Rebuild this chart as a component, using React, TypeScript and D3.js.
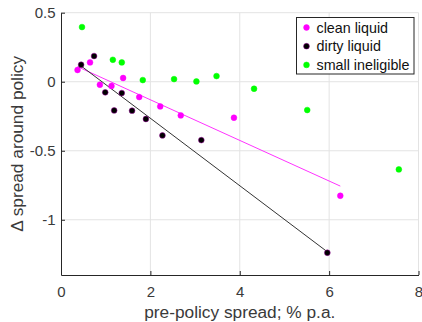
import React, {useRef, useEffect} from 'react'
import * as d3 from 'd3'

// clean liquid
const cleanX = [0.37, 0.65, 0.87, 1.13, 1.39, 1.75, 2.22, 2.68, 3.87, 6.25]
const cleanY = [0.085, 0.14, -0.022, -0.031, 0.027, -0.111, -0.179, -0.244, -0.261, -0.826]
// dirty liquid
const dirtyX = [0.45, 0.74, 0.99, 1.19, 1.36, 1.59, 1.9, 2.27, 3.14, 5.96]
const dirtyY = [0.123, 0.186, -0.077, -0.208, -0.082, -0.21, -0.27, -0.389, -0.423, -1.239]
// small ineligible
const smallX = [0.47, 1.16, 1.36, 1.83, 2.53, 3.03, 3.48, 4.32, 5.51, 7.56]
const smallY = [0.396, 0.159, 0.14, 0.012, 0.019, 0.002, 0.041, -0.051, -0.205, -0.635]

// fitted lines: [x0, x1], [y0, y1]
const cleanFitX = [0.37, 6.25]
const cleanFitY = [0.109, -0.756]
const dirtyFitX = [0.45, 5.96]
const dirtyFitY = [0.114, -1.232]

const xTicks = [0, 2, 4, 6, 8]
const yTicks = [-1, -0.5, 0, 0.5]
const legendLabels = ['clean liquid', 'dirty liquid', 'small ineligible']

const W = 422
const H = 322
const m = {left: 61, right: 3.5, top: 12.7, bottom: 47}
const font = '"Liberation Sans", Arial, Helvetica, sans-serif'
const ink = '#262626'
const textInk = '#3a3a3a'

function App() {
  const ref: any = useRef<SVGSVGElement>(null)

  useEffect(() => {
    const svg = d3.select(ref.current)
    svg.selectAll('*').remove()

    const x = d3.scaleLinear().domain([0, 8]).range([m.left, W - m.right])
    const y = d3.scaleLinear().domain([-1.4, 0.5]).range([H - m.bottom, m.top])

    // grid
    const grid = svg.append('g').attr('stroke', '#e3e3e3').attr('stroke-width', 1)
    xTicks.slice(1).forEach((t) => {
      grid.append('line').attr('x1', x(t)).attr('x2', x(t)).attr('y1', y(-1.4)).attr('y2', y(0.5))
    })
    yTicks.forEach((t) => {
      grid.append('line').attr('x1', x(0)).attr('x2', x(8)).attr('y1', y(t)).attr('y2', y(t))
    })

    // axes (ticks inward, matlab style)
    const xAxis = svg
      .append('g')
      .attr('transform', `translate(0,${y(-1.4)})`)
      .call(d3.axisBottom(x).tickValues(xTicks).tickSizeInner(-4).tickSizeOuter(0).tickPadding(11))
    const yAxis = svg
      .append('g')
      .attr('transform', `translate(${x(0)},0)`)
      .call(
        d3
          .axisLeft(y)
          .tickValues(yTicks)
          .tickSizeInner(-4)
          .tickSizeOuter(0)
          .tickPadding(5.5)
          .tickFormat((d: any) => String(d))
      )
    ;[xAxis, yAxis].forEach((a) => {
      a.select('.domain').attr('stroke', ink).attr('stroke-width', 1)
      a.selectAll('.tick line').attr('stroke', ink)
      a.selectAll('.tick text').attr('fill', textInk).attr('font-size', 15).attr('font-family', font)
    })

    // fit lines
    const fits = [
      {xs: cleanFitX, ys: cleanFitY, color: '#ff33ff'},
      {xs: dirtyFitX, ys: dirtyFitY, color: '#333333'},
    ]
    fits.forEach((f) => {
      const pts: [number, number][] = f.xs.map((v, i) => [x(v), y(f.ys[i])])
      svg
        .append('path')
        .attr('d', d3.line()(pts))
        .attr('fill', 'none')
        .attr('stroke', f.color)
        .attr('stroke-width', 1)
    })

    // points
    const series = [
      {xs: cleanX, ys: cleanY, fill: '#ff00ff', stroke: '#ff00ff'},
      {xs: dirtyX, ys: dirtyY, fill: '#000000', stroke: '#a000a0'},
      {xs: smallX, ys: smallY, fill: '#00ff00', stroke: '#00ff00'},
    ]
    series.forEach((s) => {
      svg
        .append('g')
        .selectAll('circle')
        .data(s.xs)
        .join('circle')
        .attr('cx', (d) => x(d))
        .attr('cy', (d, i) => y(s.ys[i]))
        .attr('r', 2.9)
        .attr('fill', s.fill)
        .attr('stroke', s.stroke)
        .attr('stroke-width', 0.5)
    })

    // legend
    const lg = svg.append('g').attr('transform', 'translate(296.5,17.5)')
    lg.append('rect')
      .attr('width', 117.5)
      .attr('height', 56.5)
      .attr('fill', '#fff')
      .attr('stroke', ink)
      .attr('stroke-width', 1)
    legendLabels.forEach((lab, i) => {
      const cy = 10 + i * 18.7
      lg.append('circle')
        .attr('cx', 10)
        .attr('cy', cy)
        .attr('r', 2.9)
        .attr('fill', series[i].fill)
        .attr('stroke', series[i].stroke)
        .attr('stroke-width', 0.5)
      lg.append('text')
        .attr('x', 20)
        .attr('y', cy + 5)
        .attr('font-size', 14.3)
        .attr('font-family', font)
        .attr('fill', '#111')
        .text(lab)
    })

    // axis labels
    svg
      .append('text')
      .attr('x', (x(0) + x(8)) / 2)
      .attr('y', 318)
      .attr('text-anchor', 'middle')
      .attr('font-size', 17.3)
      .attr('font-family', font)
      .attr('fill', textInk)
      .text('pre-policy spread; % p.a.')
    svg
      .append('text')
      .attr('transform', `translate(22.5,${(y(-1.4) + y(0.5)) / 2}) rotate(-90)`)
      .attr('text-anchor', 'middle')
      .attr('font-size', 17.3)
      .attr('font-family', font)
      .attr('fill', textInk)
      .text('Δ spread around policy')
  }, [])

  return (
    <svg
      width={W}
      height={H}
      ref={ref}
      style={{position: 'absolute', left: 0, top: 0, background: '#fff'}}
    />
  )
}
export default App
